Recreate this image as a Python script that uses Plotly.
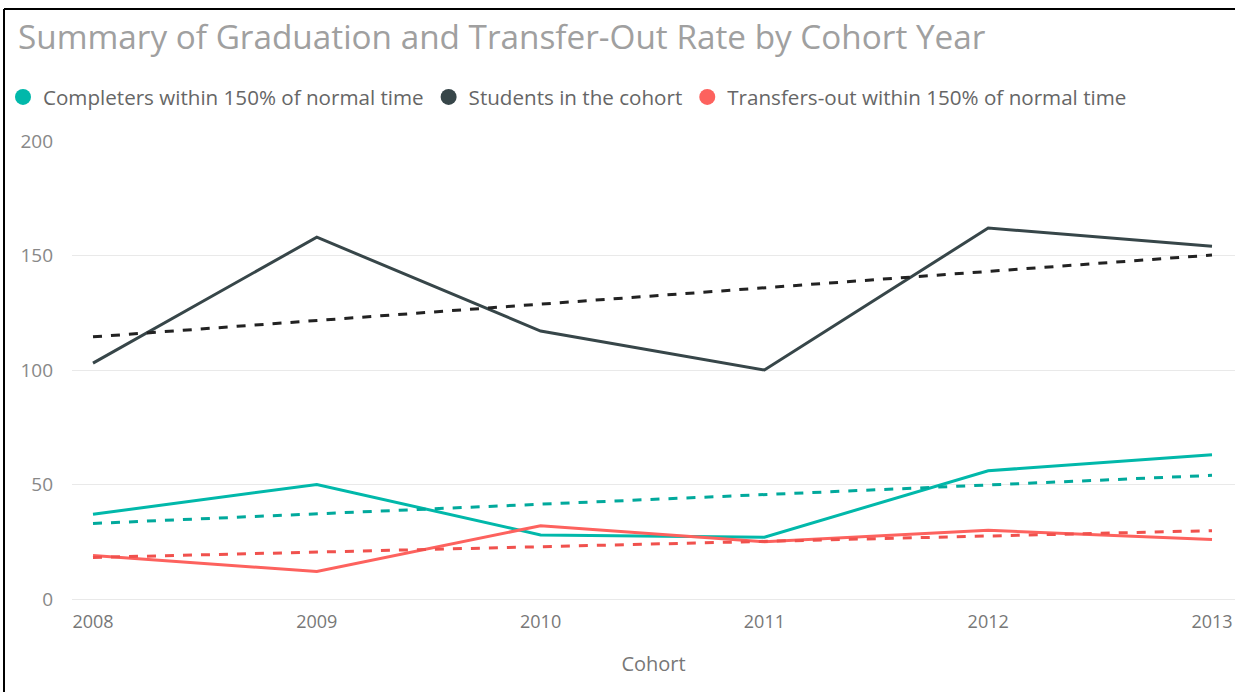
import numpy as np
import plotly.graph_objects as go

years = [2008, 2009, 2010, 2011, 2012, 2013]
completers = [37, 50, 28, 27, 56, 63]
students = [103, 158, 117, 100, 162, 154]
transfers = [19, 12, 32, 25, 30, 26]

names = ["Completers within 150% of normal time", "Students in the cohort",
         "Transfers-out within 150% of normal time"]
series = [completers, students, transfers]
colors = ["#01B8AA", "#374649", "#FD625E"]
trend_colors = ["#01A99C", "#222222", "#F0514D"]

W, H = 1235, 692
L, R, T, B = 72, 0, 141, 93
pw, ph = W - L - R, H - T - B

def px_x(p):
    return (p - L) / pw

def px_y(p):
    return (H - B - p) / ph

fig = go.Figure()
x = np.array(years, dtype=float)
for name, vals, c, tc in zip(names, series, colors, trend_colors):
    fig.add_trace(go.Scatter(x=years, y=vals, mode="lines", line=dict(color=c, width=3),
                             showlegend=False, name=name, cliponaxis=False))
    k, b0 = np.polyfit(x - x[0], np.array(vals, dtype=float), 1)
    trend = k * (x - x[0]) + b0
    fig.add_trace(go.Scatter(x=years, y=trend, mode="lines",
                             line=dict(color=tc, width=3, dash="dash"),
                             showlegend=False, hoverinfo="skip", cliponaxis=False))

for name, c in zip(names, colors):
    fig.add_trace(go.Scatter(x=[None], y=[None], mode="markers", name=name,
                             marker=dict(color=c, size=18, symbol="circle")))

ppu = (1212 - 93) / 5
fig.update_layout(
    width=W, height=H,
    margin=dict(l=L, r=R, t=T, b=B, pad=0),
    paper_bgcolor="white", plot_bgcolor="white",
    font=dict(family="Open Sans, Segoe UI, sans-serif", color="#777777"),
    title=dict(text="Summary of Graduation and Transfer-Out Rate by Cohort Year",
               xref="container", yref="container", x=18 / W, xanchor="left",
               y=1 - 37 / H, yanchor="middle",
               font=dict(size=33.3, color="#a0a0a0", family="Open Sans, sans-serif")),
    legend=dict(orientation="h", xref="container", yref="container",
                x=3 / W, xanchor="left", y=1 - 97 / H, yanchor="middle",
                font=dict(size=20.6, color="#666666"), itemclick=False,
                tracegroupgap=0, bgcolor="rgba(0,0,0,0)"),
    xaxis=dict(range=[2008 - (93 - L) / ppu, 2013 + (W - R - 1212) / ppu],
               tickmode="array", tickvals=years, ticktext=[str(y) for y in years],
               showgrid=False, zeroline=False, showline=False,
               tickfont=dict(size=18, color="#777777"), ticklabelstandoff=10,
               title=dict(text="Cohort", font=dict(size=20, color="#777777"), standoff=24)),
    yaxis=dict(range=[0, 200], tickvals=[0, 50, 100, 150, 200],
               showgrid=True, gridcolor="#e9e9e9", gridwidth=1,
               zeroline=True, zerolinecolor="#e9e9e9", zerolinewidth=1,
               showline=False, tickfont=dict(size=19, color="#888888"),
               ticklabelstandoff=18),
    shapes=[
        dict(type="line", xref="paper", yref="paper", x0=px_x(4), x1=px_x(W + 5),
             y0=px_y(9), y1=px_y(9), line=dict(color="black", width=2)),
        dict(type="line", xref="paper", yref="paper", x0=px_x(4), x1=px_x(4),
             y0=px_y(9), y1=px_y(H + 5), line=dict(color="black", width=2)),
    ],
)

fig.write_html("out.html", config={"displayModeBar": False},
               post_script="document.body.style.margin='0px';")
